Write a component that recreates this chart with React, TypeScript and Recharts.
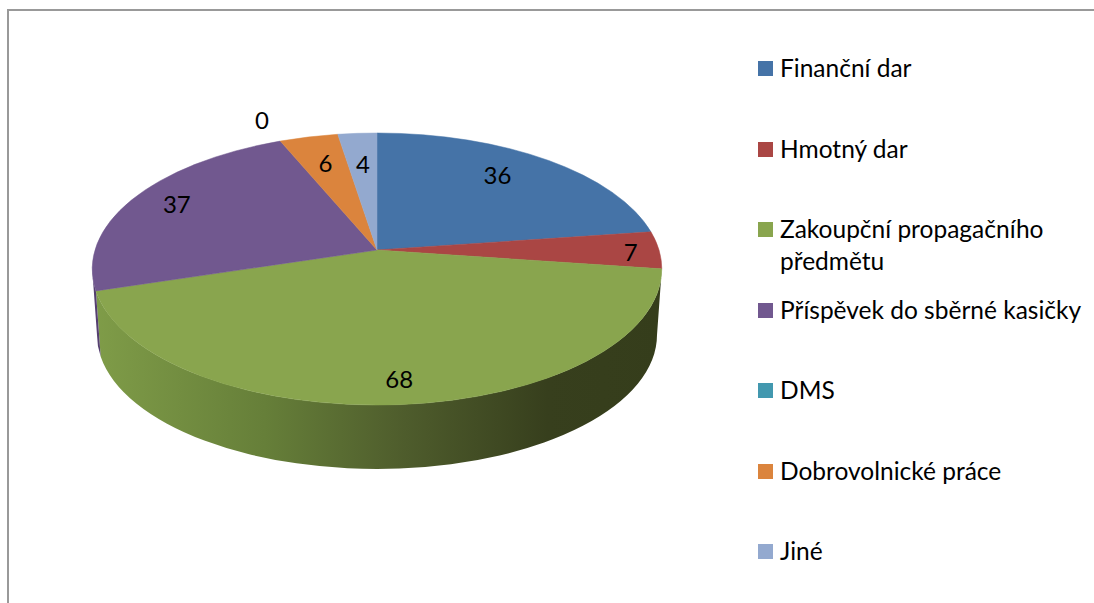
import React from 'react';
import { Legend, Pie, PieChart } from 'recharts';

const categories = [
  'Finanční dar',
  'Hmotný dar',
  'Zakoupční propagačního předmětu',
  'Příspěvek do sběrné kasičky',
  'DMS',
  'Dobrovolnické práce',
  'Jiné',
];
const values = [36, 7, 68, 37, 0, 6, 4];
const colors = ['#4573A7', '#AA4644', '#89A54E', '#71588F', '#4298AF', '#DB843D', '#93A9CF'];
const wallColors = ['#2E4D70', '#722F2D', 'url(#greenWall)', '#553F70', '#2C6675', '#935828', '#62718A'];

const tableData = categories.map((name, i) => ({ name, value: values[i], fill: colors[i] }));

// label placement: fraction of the radius along the slice middle, then a small nudge
const labelRadii = [0.72, 0.9, 0.855, 0.83, 1.2, 0.74, 0.72];
const labelNudges = [[0, -10], [0, 1], [0, -4], [0, -2], [1, 0], [-1, -4], [0, -2]];

// the flat pie is tipped back, so its circle becomes an off-centre ellipse
const TILT = 0.473;
const PERSPECTIVE = 0.14;
const TOP_RX = 284.8;
const TOP_RY = 136;
const TOP_SHIFT = 19;
const BOTTOM_RX = 280;
const BOTTOM_RY = 134;
const DEPTH = 66;

const project = (cx: number, cy: number, r: number, angle: number) => {
  const t = ((90 - angle) * Math.PI) / 180;
  const k = 1 + PERSPECTIVE * Math.cos(t);
  return {
    x: cx + (r * Math.sin(t)) / k,
    y: cy - (r * TILT * Math.cos(t)) / k,
  };
};

// clockwise position on the ellipse, in degrees from its top
const ellipseParam = (cx: number, cy: number, p: { x: number; y: number }) => {
  const a = Math.atan2((p.x - cx) / TOP_RX, -(p.y - cy - TOP_SHIFT) / TOP_RY);
  return ((a * 180) / Math.PI + 360) % 360;
};

const TopSlice = (props: any) => {
  const { cx, cy, outerRadius, startAngle, endAngle, fill } = props;
  if (Math.abs(endAngle - startAngle) < 0.01) return null;
  const a = project(cx, cy, outerRadius, startAngle);
  const b = project(cx, cy, outerRadius, endAngle);
  const large = Math.abs(endAngle - startAngle) > 180 ? 1 : 0;
  const d = `M${cx},${cy}L${a.x},${a.y}A${TOP_RX},${TOP_RY} 0 ${large} 1 ${b.x},${b.y}Z`;
  return <path d={d} fill={fill} stroke={fill} strokeWidth={0.5} />;
};

const WallSlice = (props: any) => {
  const { cx, cy, outerRadius, startAngle, endAngle, index } = props;
  if (Math.abs(endAngle - startAngle) < 0.01) return null;
  const p0 = ellipseParam(cx, cy, project(cx, cy, outerRadius, startAngle));
  let p1 = ellipseParam(cx, cy, project(cx, cy, outerRadius, endAngle));
  if (p1 < p0) p1 += 360;
  const lo = Math.max(p0, 90);
  const hi = Math.min(p1, 270);
  if (hi - lo < 0.01) return null;
  const top = (deg: number) => {
    const t = (deg * Math.PI) / 180;
    return { x: cx + TOP_RX * Math.sin(t), y: cy + TOP_SHIFT - TOP_RY * Math.cos(t) };
  };
  const bottom = (deg: number) => {
    const t = (deg * Math.PI) / 180;
    return {
      x: cx + BOTTOM_RX * Math.sin(t),
      y: cy + TOP_SHIFT + DEPTH - BOTTOM_RY * Math.cos(t),
    };
  };
  const a = top(lo);
  const b = top(hi);
  const c = bottom(hi);
  const e = bottom(lo);
  const d = `M${a.x},${a.y}A${TOP_RX},${TOP_RY} 0 0 1 ${b.x},${b.y}L${c.x},${c.y}A${BOTTOM_RX},${BOTTOM_RY} 0 0 0 ${e.x},${e.y}Z`;
  return <path d={d} fill={wallColors[index]} />;
};

const renderLabel = (props: any) => {
  const { cx, cy, outerRadius, midAngle, value, index } = props;
  const p = project(cx, cy, outerRadius * labelRadii[index], midAngle);
  return (
    <text
      x={p.x + labelNudges[index][0]}
      y={p.y + labelNudges[index][1]}
      textAnchor="middle"
      dominantBaseline="central"
      fontSize={24}
      fontFamily="Lato"
      fill="#000"
    >
      {value}
    </text>
  );
};

const renderLegend = (props: any) => {
  // both pies report their slices, keep each name once
  const items = props.payload.filter(
    (item: any, i: number, all: any[]) => all.findIndex(o => o.value === item.value) === i
  );
  return (
    <div style={{ position: 'relative', width: 335, height: 540 }}>
      {items.map((item: any, i: number) => (
        <div
          key={item.value}
          style={{
            position: 'absolute',
            top: i * 80.5,
            left: 0,
            width: 335,
            paddingLeft: 22,
            boxSizing: 'border-box',
            fontFamily: 'Lato',
            fontSize: 24.5,
            lineHeight: '32px',
            color: '#000',
          }}
        >
          <span
            style={{
              position: 'absolute',
              left: 0,
              top: 9,
              width: 15,
              height: 15,
              background: item.color,
            }}
          />
          {item.value}
        </div>
      ))}
    </div>
  );
};

export default function App() {
  return (
    <div
      style={{
        position: 'absolute',
        left: 0,
        top: 0,
        width: 1094,
        height: 603,
        overflow: 'hidden',
        background: '#fff',
      }}
    >
      <div
        style={{
          position: 'absolute',
          left: 7,
          top: 9,
          width: 1087,
          height: 594,
          borderLeft: '2px solid #999',
          borderTop: '2px solid #999',
        }}
      />
      <PieChart
        width={1094}
        height={603}
        margin={{ top: 0, right: 0, bottom: 0, left: 0 }}
        style={{ position: 'absolute', left: 0, top: 0 }}
      >
        <defs>
          <linearGradient id="greenWall" gradientUnits="userSpaceOnUse" x1={95} y1={0} x2={660} y2={0}>
            <stop offset="0%" stopColor="#7F9C48" />
            <stop offset="30%" stopColor="#667F39" />
            <stop offset="55%" stopColor="#4E5C2C" />
            <stop offset="80%" stopColor="#373F1D" />
            <stop offset="100%" stopColor="#353D1B" />
          </linearGradient>
        </defs>
        <Pie
          data={tableData}
          dataKey="value"
          nameKey="name"
          cx={377}
          cy={250}
          outerRadius={282}
          startAngle={90}
          endAngle={-270}
          legendType="none"
          shape={WallSlice}
          isAnimationActive={false}
        />
        <Pie
          data={tableData}
          dataKey="value"
          nameKey="name"
          cx={377}
          cy={250}
          outerRadius={282}
          startAngle={90}
          endAngle={-270}
          shape={TopSlice}
          label={renderLabel}
          labelLine={false}
          isAnimationActive={false}
        />
        <Legend
          content={renderLegend}
          itemSorter={null}
          layout="vertical"
          wrapperStyle={{ position: 'absolute', left: 758, top: 52, width: 335, height: 540, margin: 0 }}
        />
      </PieChart>
    </div>
  );
}
